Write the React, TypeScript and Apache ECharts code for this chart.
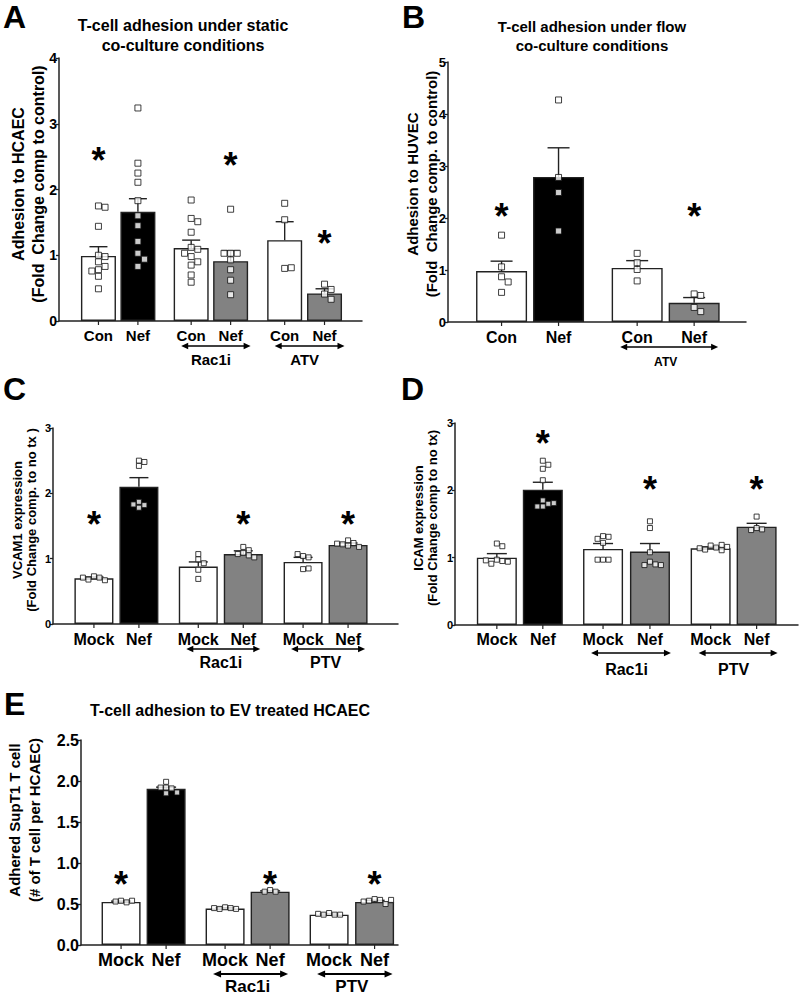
import React, { useEffect, useRef } from "react";
import * as echarts from "echarts";

const FONT = '"Liberation Sans", Arial, Helvetica, sans-serif';
const FILL: Record<string, string> = { white: "#ffffff", black: "#000000", gray: "#828282" };

// ---------------- Panel A ----------------
const A_CATS = ["Con", "Nef", "Con", "Nef", "Con", "Nef"];
const A_POS = [1, 2, 3.35, 4.35, 5.72, 6.73];
const A_MEAN = [0.99, 1.66, 1.11, 0.91, 1.23, 0.42];
const A_ERR = [1.13, 1.86, 1.23, 1.07, 1.51, 0.49];
const A_PTS = [
  [1.75, 1.73, 1.44, 1.0, 0.98, 0.9, 0.83, 0.78, 0.76, 0.68, 0.49],
  [3.24, 2.4, 2.25, 2.11, 1.83, 1.6, 1.45, 1.21, 1.03, 0.94, 0.83],
  [1.84, 1.56, 1.51, 1.35, 1.12, 1.09, 1.03, 0.98, 0.9, 0.85, 0.7, 0.59],
  [1.7, 1.03, 1.03, 1.03, 0.93, 0.78, 0.62, 0.4],
  [1.79, 1.54, 0.8, 0.81],
  [0.56, 0.48, 0.41, 0.33],
];
const A_STARS = [2.54, null, null, 2.46, null, 1.27];
const A_FILLS = ["white", "black", "white", "gray", "white", "gray"];
const A_GROUPS = [
  { label: "Rac1i", from: 2, to: 3 },
  { label: "ATV", from: 4, to: 5 },
];

// ---------------- Panel B ----------------
const B_CATS = ["Con", "Nef", "Con", "Nef"];
const B_POS = [0.94, 1.94, 3.32, 4.32];
const B_MEAN = [0.98, 2.79, 1.04, 0.37];
const B_ERR = [1.17, 3.35, 1.18, 0.47];
const B_PTS = [
  [1.67, 1.06, 0.87, 0.77, 0.57],
  [4.27, 2.78, 2.49, 1.75],
  [1.32, 1.14, 1.01, 0.79],
  [0.54, 0.51, 0.28, 0.2],
];
const B_STARS = [2.14, null, null, 2.14];
const B_FILLS = ["white", "black", "white", "gray"];
const B_GROUPS = [{ label: "ATV", from: 2, to: 3 }];

// ---------------- Panel C ----------------
const C_CATS = ["Mock", "Nef", "Mock", "Nef", "Mock", "Nef"];
const C_POS = [0.91, 1.91, 3.23, 4.23, 5.56, 6.56];
const C_MEAN = [0.7, 2.1, 0.88, 1.07, 0.95, 1.21];
const C_ERR = [0.72, 2.24, 0.95, 1.12, 1.02, 1.24];
const C_PTS = [
  [0.73, 0.71, 0.68, 0.67, 0.71],
  [2.5, 2.42, 2.48, 1.87, 1.82, 1.78, 1.83],
  [1.07, 0.99, 0.93, 0.83, 0.69],
  [1.18, 1.13, 1.09, 1.07, 1.05, 1.02],
  [1.04, 1.02, 1.07, 0.84, 0.85],
  [1.28, 1.24, 1.22, 1.2, 1.18, 1.23],
];
const C_STARS = [1.62, null, null, 1.62, null, 1.62];
const C_FILLS = ["white", "black", "white", "gray", "white", "gray"];
const C_GROUPS = [
  { label: "Rac1i", from: 2, to: 3 },
  { label: "PTV", from: 4, to: 5 },
];

// ---------------- Panel D ----------------
const D_CATS = ["Mock", "Nef", "Mock", "Nef", "Mock", "Nef"];
const D_POS = [0.91, 1.91, 3.22, 4.24, 5.56, 6.56];
const D_MEAN = [1.0, 2.01, 1.13, 1.09, 1.14, 1.46];
const D_ERR = [1.06, 2.12, 1.21, 1.21, 1.16, 1.51];
const D_PTS = [
  [1.21, 1.17, 0.97, 0.95, 0.91, 0.94, 0.96],
  [2.44, 2.38, 2.32, 2.15, 1.85, 1.8, 1.76, 1.76, 1.81],
  [1.32, 1.31, 1.28, 1.22, 0.97, 0.97, 0.97],
  [1.54, 1.44, 1.08, 0.94, 0.9, 0.89, 0.89],
  [1.18, 1.15, 1.12, 1.19, 1.14, 1.11, 1.16],
  [1.61, 1.44, 1.42, 1.41],
];
const D_STARS = [null, 2.79, null, 2.1, null, 2.1];
const D_FILLS = ["white", "black", "white", "gray", "white", "gray"];
const D_GROUPS = [
  { label: "Rac1i", from: 2, to: 3 },
  { label: "PTV", from: 4, to: 5 },
];

// ---------------- Panel E ----------------
const E_CATS = ["Mock", "Nef", "Mock", "Nef", "Mock", "Nef"];
const E_POS = [0.89, 1.89, 3.2, 4.2, 5.51, 6.52];
const E_MEAN = [0.525, 1.905, 0.445, 0.65, 0.37, 0.525];
const E_ERR = [0.535, 1.925, 0.455, 0.66, 0.378, 0.545];
const E_PTS = [
  [0.54, 0.52, 0.53, 0.54],
  [1.99, 1.92, 1.91, 1.92, 1.85, 1.86],
  [0.46, 0.45, 0.44, 0.44, 0.45],
  [0.67, 0.65, 0.65],
  [0.39, 0.37, 0.37, 0.37, 0.38],
  [0.56, 0.55, 0.54, 0.5, 0.53, 0.55],
];
const E_STARS = [0.81, null, null, 0.81, null, 0.81];
const E_FILLS = ["white", "black", "white", "gray", "white", "gray"];
const E_GROUPS = [
  { label: "Rac1i", from: 2, to: 3 },
  { label: "PTV", from: 4, to: 5 },
];

type Group = { label: string; from: number; to: number };
type Panel = {
  cats: string[]; pos: number[]; mean: number[]; err: number[]; pts: number[][];
  stars: (number | null)[]; fills: string[]; groups: Group[];
  grid: { left: number; top: number; width: number; height: number };
  xMax: number; yMax: number; yInterval: number; yDecimals: number;
  barWidth: number; capWidth: number; markSize: number; tickFont: number;
  catFont: number; catDy: number; grpFont: number; grpDy: number; arrowDy: number;
  arrowL: number; arrowR: number; arrowW: number; head: number; starFont: number;
};

const PANELS: Panel[] = [
  {
    cats: A_CATS, pos: A_POS, mean: A_MEAN, err: A_ERR, pts: A_PTS, stars: A_STARS, fills: A_FILLS, groups: A_GROUPS,
    grid: { left: 59, top: 58, width: 303, height: 263 }, xMax: 7.68, yMax: 4, yInterval: 1, yDecimals: 0,
    barWidth: 35, capWidth: 18, markSize: 6, tickFont: 14, catFont: 15, catDy: 14, grpFont: 15, grpDy: 38,
    arrowDy: 25, arrowL: 10, arrowR: 20, arrowW: 1.3, head: 7, starFont: 36,
  },
  {
    cats: B_CATS, pos: B_POS, mean: B_MEAN, err: B_ERR, pts: B_PTS, stars: B_STARS, fills: B_FILLS, groups: B_GROUPS,
    grid: { left: 448, top: 62, width: 298, height: 260 }, xMax: 5.23, yMax: 5, yInterval: 1, yDecimals: 0,
    barWidth: 51, capWidth: 22, markSize: 6, tickFont: 13, catFont: 16, catDy: 15, grpFont: 12, grpDy: 40,
    arrowDy: 25, arrowL: 17, arrowR: 24, arrowW: 1.3, head: 7, starFont: 36,
  },
  {
    cats: C_CATS, pos: C_POS, mean: C_MEAN, err: C_ERR, pts: C_PTS, stars: C_STARS, fills: C_FILLS, groups: C_GROUPS,
    grid: { left: 53, top: 428, width: 345, height: 196 }, xMax: 7.67, yMax: 3, yInterval: 1, yDecimals: 0,
    barWidth: 39, capWidth: 19, markSize: 5, tickFont: 11, catFont: 16, catDy: 15, grpFont: 16, grpDy: 38,
    arrowDy: 25, arrowL: 12, arrowR: 17, arrowW: 1.3, head: 7, starFont: 36,
  },
  {
    cats: D_CATS, pos: D_POS, mean: D_MEAN, err: D_ERR, pts: D_PTS, stars: D_STARS, fills: D_FILLS, groups: D_GROUPS,
    grid: { left: 455, top: 423, width: 343, height: 202 }, xMax: 7.46, yMax: 3, yInterval: 1, yDecimals: 0,
    barWidth: 40, capWidth: 20, markSize: 5, tickFont: 11, catFont: 16, catDy: 14, grpFont: 16, grpDy: 44,
    arrowDy: 28, arrowL: 12, arrowR: 21, arrowW: 1.3, head: 7, starFont: 36,
  },
  {
    cats: E_CATS, pos: E_POS, mean: E_MEAN, err: E_ERR, pts: E_PTS, stars: E_STARS, fills: E_FILLS, groups: E_GROUPS,
    grid: { left: 81, top: 740, width: 317, height: 205 }, xMax: 7.04, yMax: 2.5, yInterval: 0.5, yDecimals: 1,
    barWidth: 39, capWidth: 20, markSize: 5, tickFont: 16, catFont: 18, catDy: 15, grpFont: 17, grpDy: 41,
    arrowDy: 29, arrowL: 12, arrowR: 18, arrowW: 2, head: 8, starFont: 36,
  },
];

function swarm(vals: number[], pxY: number, pxX: number, size: number): number[] {
  const placed: { v: number; o: number }[] = [];
  return vals.map((v) => {
    let off = 0;
    for (let n = 0; n < 30; n++) {
      const cand = n === 0 ? 0 : (n % 2 === 1 ? 1 : -1) * Math.ceil(n / 2) * size * 1.1;
      const hit = placed.some((p) => Math.abs((p.v - v) * pxY) < size && Math.abs(p.o - cand) < size);
      if (!hit) { off = cand; break; }
    }
    placed.push({ v, o: off });
    return off / pxX;
  });
}

function buildOption() {
  const grids: any[] = [];
  const xAxes: any[] = [];
  const yAxes: any[] = [];
  const series: any[] = [];
  const AX = "#222";

  PANELS.forEach((p, i) => {
    grids.push({ ...p.grid, containLabel: false });
    xAxes.push({
      gridIndex: i, type: "value", min: 0, max: p.xMax,
      axisLine: { show: true, onZero: false, lineStyle: { color: AX, width: 1.5 } },
      axisTick: { show: false }, axisLabel: { show: false }, splitLine: { show: false },
    });
    yAxes.push({
      gridIndex: i, type: "value", min: 0, max: p.yMax, interval: p.yInterval,
      axisLine: { show: true, onZero: false, lineStyle: { color: AX, width: 1.5 } },
      axisTick: { show: true, length: 3, lineStyle: { color: AX, width: 1.3 } },
      axisLabel: {
        fontFamily: FONT, fontWeight: "bold", fontSize: p.tickFont, color: "#000", margin: 2,
        formatter: (v: number) => v.toFixed(p.yDecimals),
      },
      splitLine: { show: false },
    });

    series.push({
      type: "bar", xAxisIndex: i, yAxisIndex: i, barWidth: p.barWidth, z: 2,
      data: p.mean.map((m, j) => ({
        value: [p.pos[j], m],
        itemStyle: { color: FILL[p.fills[j]], borderColor: AX, borderWidth: 1.4 },
      })),
    });

    const capW = p.capWidth;
    series.push({
      type: "custom", xAxisIndex: i, yAxisIndex: i, z: 3, clip: false,
      encode: { x: 0, y: [1, 2] },
      data: p.mean.map((m, j) => [p.pos[j], m, p.err[j]]),
      renderItem: (params: any, api: any) => {
        const a = api.coord([api.value(0), api.value(1)]);
        const b = api.coord([api.value(0), api.value(2)]);
        return {
          type: "group",
          children: [
            { type: "line", shape: { x1: a[0], y1: a[1], x2: b[0], y2: b[1] }, style: { stroke: AX, lineWidth: 1.4 } },
            { type: "line", shape: { x1: b[0] - capW / 2, y1: b[1], x2: b[0] + capW / 2, y2: b[1] }, style: { stroke: AX, lineWidth: 1.4 } },
          ],
        };
      },
    });

    const pxY = p.grid.height / p.yMax;
    const pxX = p.grid.width / p.xMax;
    const ptData: number[][] = [];
    p.pts.forEach((vals, j) => {
      const offs = swarm(vals, pxY, pxX, p.markSize);
      vals.forEach((v, k) => ptData.push([p.pos[j] + offs[k], v]));
    });
    series.push({
      type: "scatter", xAxisIndex: i, yAxisIndex: i, z: 4, symbol: "rect", symbolSize: p.markSize,
      itemStyle: { color: "#ffffff", borderColor: "#111", borderWidth: 1 },
      data: ptData,
    });

    series.push({
      type: "custom", xAxisIndex: i, yAxisIndex: i, z: 5, clip: false,
      encode: { x: 0, y: 1 },
      data: p.pos.map((x) => [x, 0]),
      renderItem: (params: any, api: any) => {
        const j = params.dataIndex;
        const x = api.value(0);
        const base = api.coord([x, 0]);
        const children: any[] = [
          { type: "line", shape: { x1: base[0], y1: base[1], x2: base[0], y2: base[1] + 4 }, style: { stroke: AX, lineWidth: 1.2 } },
          {
            type: "text", x: base[0], y: base[1] + p.catDy,
            style: { text: p.cats[j], font: `bold ${p.catFont}px ${FONT}`, fill: "#000", align: "center", verticalAlign: "middle" },
          },
        ];
        const s = p.stars[j];
        if (s != null) {
          const c = api.coord([x, s]);
          children.push({
            type: "text", x: c[0], y: c[1] + p.starFont * 0.17,
            style: { text: "*", font: `bold ${p.starFont}px ${FONT}`, fill: "#000", align: "center", verticalAlign: "middle" },
          });
        }
        return { type: "group", children };
      },
    });

    series.push({
      type: "custom", xAxisIndex: i, yAxisIndex: i, z: 5, clip: false,
      encode: { x: [0, 1], y: 2 },
      data: p.groups.map((g) => [p.pos[g.from], p.pos[g.to], 0]),
      renderItem: (params: any, api: any) => {
        const g = p.groups[params.dataIndex];
        const a = api.coord([api.value(0), 0]);
        const b = api.coord([api.value(1), 0]);
        const y = a[1] + p.arrowDy;
        const x1 = a[0] - p.arrowL;
        const x2 = b[0] + p.arrowR;
        const h = p.head;
        const hw = h * 0.45;
        return {
          type: "group",
          children: [
            { type: "line", shape: { x1: x1 + h * 0.8, y1: y, x2: x2 - h * 0.8, y2: y }, style: { stroke: "#000", lineWidth: p.arrowW } },
            { type: "polygon", shape: { points: [[x1, y], [x1 + h, y - hw], [x1 + h, y + hw]] }, style: { fill: "#000" } },
            { type: "polygon", shape: { points: [[x2, y], [x2 - h, y - hw], [x2 - h, y + hw]] }, style: { fill: "#000" } },
            {
              type: "text", x: (a[0] + b[0]) / 2, y: a[1] + p.grpDy,
              style: { text: g.label, font: `bold ${p.grpFont}px ${FONT}`, fill: "#000", align: "center", verticalAlign: "middle" },
            },
          ],
        };
      },
    });
  });

  const txt = (x: number, y: number, text: string, size: number, extra: any = {}) => ({
    type: "text", x, y,
    style: { text, font: `bold ${size}px ${FONT}`, fill: "#000", align: "center", verticalAlign: "middle", ...(extra.style || {}) },
  });
  const letter = (x: number, y: number, t: string) => ({
    type: "text", x, y,
    style: { text: t, font: `bold 32px ${FONT}`, fill: "#000", align: "left", verticalAlign: "middle" },
  });
  const ytitle = (x: number, y: number, text: string, size: number, lh: number) => ({
    type: "text", x, y, rotation: Math.PI / 2,
    style: { text, font: `bold ${size}px ${FONT}`, fill: "#000", align: "center", verticalAlign: "middle", lineHeight: lh },
  });

  const graphic = [
    letter(3, 17, "A"),
    letter(402, 17, "B"),
    letter(3, 389, "C"),
    letter(401, 389, "D"),
    letter(4, 704, "E"),
    txt(183, 35, "T-cell adhesion under static\nco-culture conditions", 16, { style: { lineHeight: 20 } }),
    txt(592, 36, "T-cell adhesion under flow\nco-culture conditions", 15, { style: { lineHeight: 19 } }),
    txt(230, 710, "T-cell adhesion to EV treated HCAEC", 16),
    ytitle(28, 184, "Adhesion to HCAEC\n(Fold  Change comp to control)", 16, 20),
    ytitle(422, 184, "Adhesion to HUVEC\n(Fold  Change comp. to control)", 15, 19),
    ytitle(24, 520, "VCAM1 expression\n(Fold Change comp. to no tx )", 13, 14),
    ytitle(425, 518, "ICAM expression\n(Fold Change comp to no tx)", 13, 14),
    ytitle(24, 820, "Adhered SupT1 T cell\n(# of T cell per HCAEC)", 15, 20),
  ];

  return {
    animation: false,
    backgroundColor: "#ffffff",
    grid: grids,
    xAxis: xAxes,
    yAxis: yAxes,
    series,
    graphic,
  };
}

export default function App() {
  const ref = useRef<HTMLDivElement>(null);
  useEffect(() => {
    if (!ref.current) return;
    const chart = echarts.init(ref.current, undefined, { renderer: "svg" });
    chart.setOption(buildOption() as any);
    return () => chart.dispose();
  }, []);
  return (
    <div
      ref={ref}
      style={{ position: "fixed", left: 0, top: 0, width: 800, height: 995, background: "#fff" }}
    />
  );
}
